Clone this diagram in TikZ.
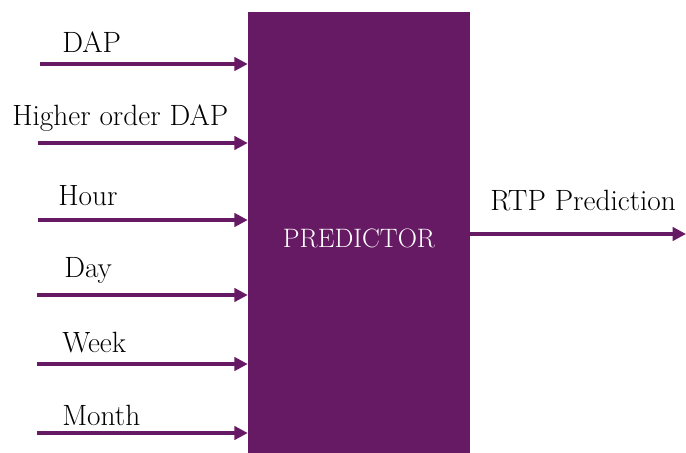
\documentclass[tikz,border=0pt]{standalone}
\usepackage{tikz}
\usepackage{xcolor}
\usetikzlibrary{arrows.meta}

\definecolor{plum}{RGB}{102,26,100}

\begin{document}
\begin{tikzpicture}[x=0.75pt,y=-0.75pt,
        feed/.style={draw=plum, line width=2.4pt, -{Triangle[length=10pt,width=10pt]}},
        lbl/.style={anchor=base west, inner sep=0pt, font=\fontsize{22}{26}\selectfont}]
        \useasboundingbox (0,0) rectangle (686,453);

        % predictor block
        \node [fill=plum, minimum width=166.5pt, minimum height=330.75pt, inner sep=0pt] (pred) at (359,232.5) {};
        \node [anchor=base, inner sep=0pt, text=white, font=\fontsize{20}{24}\selectfont] (predtxt) at (359,247) {PREDICTOR};

        % inputs
        \coordinate (dap) at (40,64);
        \coordinate (hod) at (38,143);
        \coordinate (hour) at (38,220);
        \coordinate (day) at (37,295);
        \coordinate (week) at (37,364);
        \coordinate (month) at (37,433);

        \node [lbl] (dapl) at (62,53) {DAP};
        \node [lbl] (hodl) at (12,126) {Higher order DAP};
        \node [lbl] (hourl) at (58,205) {Hour};
        \node [lbl] (dayl) at (64,277) {Day};
        \node [lbl] (weekl) at (62,352) {Week};
        \node [lbl] (monthl) at (62,425) {Month};

        \foreach \c in {dap,hod,hour,day,week,month}
            \draw [feed] (\c) -- (\c -| pred.west);

        % output
        \coordinate (rtp) at (686,234);
        \node [lbl] (rtpl) at (490,210) {RTP Prediction};
        \draw [feed] (rtp -| pred.east) -- (rtp);

    \end{tikzpicture}
\end{document}
